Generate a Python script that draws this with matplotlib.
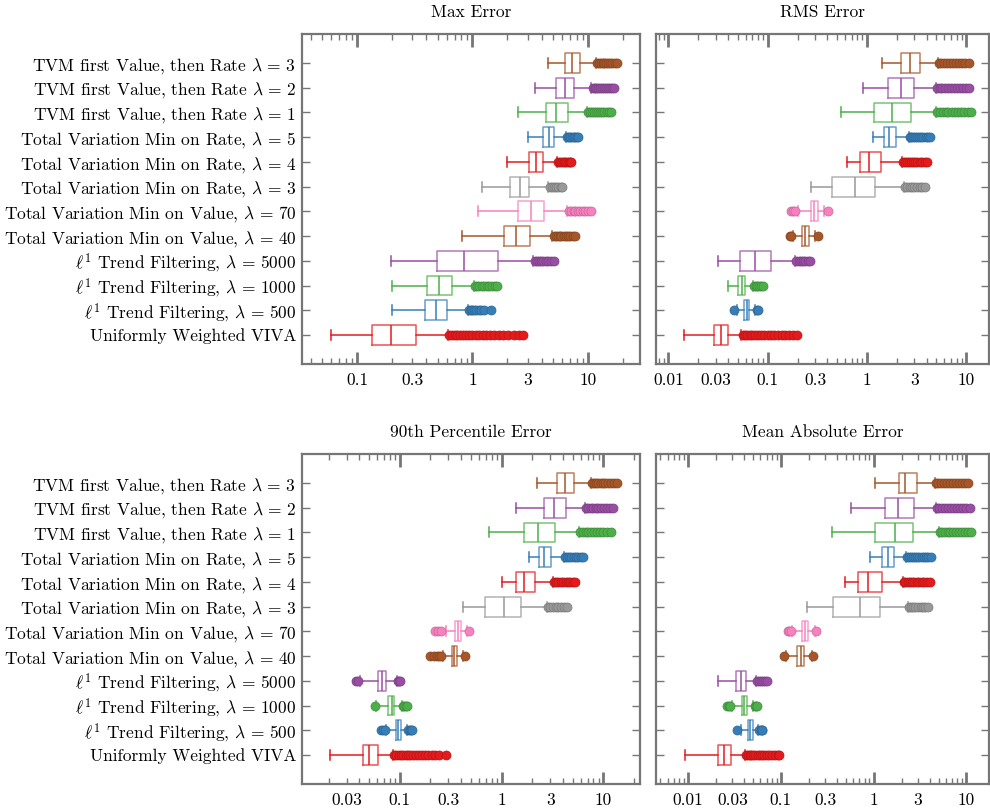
import matplotlib.pyplot as plt
from matplotlib.ticker import FixedLocator, FuncFormatter
import numpy as np

plt.rcParams['font.family'] = 'cmr10'
plt.rcParams['mathtext.fontset'] = 'cm'
plt.rcParams['axes.formatter.use_mathtext'] = True

# bottom -> top
methods = [
    'Uniformly Weighted VIVA',
    r'$\ell^1$ Trend Filtering, $\lambda\,=\,500$',
    r'$\ell^1$ Trend Filtering, $\lambda\,=\,1000$',
    r'$\ell^1$ Trend Filtering, $\lambda\,=\,5000$',
    r'Total Variation Min on Value, $\lambda\,=\,40$',
    r'Total Variation Min on Value, $\lambda\,=\,70$',
    r'Total Variation Min on Rate, $\lambda\,=\,3$',
    r'Total Variation Min on Rate, $\lambda\,=\,4$',
    r'Total Variation Min on Rate, $\lambda\,=\,5$',
    r'TVM first Value, then Rate $\lambda\,=\,1$',
    r'TVM first Value, then Rate $\lambda\,=\,2$',
    r'TVM first Value, then Rate $\lambda\,=\,3$',
]
colors = ['#e41a1c', '#377eb8', '#4daf4a', '#984ea3', '#a65628', '#f781bf', '#999999',
          '#e41a1c', '#377eb8', '#4daf4a', '#984ea3', '#a65628']

# ---- Max Error
max_lo = [0.06, 0.2, 0.2, 0.198, 0.81, 1.11, 1.2, 2.0, 3.03, 2.48, 3.51, 4.52]
max_q1 = [0.135, 0.387, 0.405, 0.494, 1.87, 2.47, 2.1, 3.1, 4.1, 4.37, 5.33, 6.38]
max_med = [0.198, 0.485, 0.51, 0.84, 2.4, 3.22, 2.57, 3.56, 4.58, 5.3, 6.3, 7.3]
max_q3 = [0.326, 0.604, 0.667, 1.67, 3.14, 4.15, 3.11, 4.06, 5.06, 6.73, 7.64, 8.6]
max_hi = [0.61, 0.91, 1.03, 3.35, 4.9, 6.6, 4.52, 5.41, 6.47, 9.84, 10.7, 11.8]
max_fl = [
    [0.63, 0.66, 0.7, 0.74, 0.78, 0.83, 0.88, 0.94, 1.0, 1.07, 1.15, 1.23, 1.32, 1.42, 1.55, 1.7, 1.85, 2.05, 2.3, 2.55, 2.75],
    [0.94, 0.97, 1.0, 1.04, 1.08, 1.13, 1.18, 1.25, 1.45],
    [1.06, 1.1, 1.15, 1.2, 1.26, 1.33, 1.4, 1.48, 1.56, 1.64],
    [3.45, 3.6, 3.75, 3.9, 4.1, 4.3, 4.55, 4.8, 5.1],
    [5.05, 5.3, 5.5, 5.7, 5.9, 6.15, 6.4, 6.7, 7.0, 7.4, 7.8],
    [6.8, 7.2, 7.5, 7.8, 8.2, 8.6, 9.0, 9.5, 10.0, 10.7],
    [4.65, 4.85, 5.05, 5.3, 5.55, 5.8, 6.0],
    [5.55, 5.75, 5.95, 6.15, 6.35, 6.6, 6.85, 7.05, 7.2],
    [6.6, 6.8, 7.0, 7.25, 7.5, 7.75, 8.0, 8.2],
    [10.1, 10.5, 10.9, 11.3, 11.8, 12.3, 12.8, 13.3, 13.9, 14.5, 15.1, 15.7],
    [11.0, 11.4, 11.8, 12.2, 12.7, 13.2, 13.7, 14.2, 14.8, 15.4, 16.0, 16.7],
    [12.1, 12.5, 12.9, 13.4, 13.9, 14.4, 15.0, 15.6, 16.2, 17.0, 17.9],
]

# ---- RMS Error
rms_lo = [0.0145, 0.049, 0.0397, 0.0319, 0.178, 0.204, 0.274, 0.63, 1.15, 0.55, 0.91, 1.42]
rms_q1 = [0.0291, 0.0584, 0.0508, 0.0528, 0.221, 0.27, 0.444, 0.84, 1.47, 1.17, 1.63, 2.2]
rms_med = [0.034, 0.0617, 0.055, 0.0748, 0.237, 0.292, 0.762, 1.04, 1.65, 1.79, 2.2, 2.69]
rms_q3 = [0.0403, 0.0656, 0.0597, 0.1077, 0.258, 0.318, 1.21, 1.39, 1.96, 2.75, 2.98, 3.39]
rms_hi = [0.054, 0.0753, 0.071, 0.189, 0.301, 0.371, 2.34, 2.25, 2.63, 4.96, 4.96, 5.15]
rms_fl = [
    [0.056, 0.059, 0.062, 0.066, 0.07, 0.075, 0.08, 0.086, 0.092, 0.1, 0.108, 0.117, 0.127, 0.138, 0.15, 0.165, 0.18, 0.197],
    [0.046, 0.078, 0.08],
    [0.073, 0.076, 0.079, 0.082, 0.085, 0.0895],
    [0.195, 0.205, 0.215, 0.225, 0.24, 0.255, 0.268],
    [0.166, 0.17, 0.318],
    [0.171, 0.178, 0.19, 0.404],
    [2.4, 2.55, 2.7, 2.85, 3.0, 3.2, 3.4, 3.6, 3.85],
    [2.3, 2.4, 2.5, 2.62, 2.75, 2.9, 3.05, 3.2, 3.4, 3.6, 3.8, 4.05],
    [2.7, 2.8, 2.92, 3.05, 3.2, 3.35, 3.5, 3.7, 3.9, 4.1, 4.35],
    [5.1, 5.4, 5.8, 6.2, 6.6, 7.1, 7.6, 8.2, 8.8, 9.5, 10.3, 11.2],
    [5.1, 5.4, 5.7, 6.1, 6.5, 7.0, 7.5, 8.0, 8.6, 9.3, 10.0, 10.7],
    [5.3, 5.6, 6.0, 6.4, 6.8, 7.3, 7.8, 8.4, 9.0, 9.7, 10.6],
]

# ---- 90th Percentile Error
p90_lo = [0.0208, 0.0728, 0.058, 0.0404, 0.263, 0.281, 0.413, 1.0, 1.88, 0.755, 1.39, 2.21]
p90_q1 = [0.0436, 0.0906, 0.0762, 0.0604, 0.322, 0.347, 0.69, 1.38, 2.31, 1.65, 2.59, 3.47]
p90_med = [0.0499, 0.0955, 0.0828, 0.0666, 0.34, 0.369, 1.06, 1.67, 2.63, 2.29, 3.27, 4.19]
p90_q3 = [0.0612, 0.103, 0.0879, 0.0733, 0.366, 0.398, 1.54, 2.14, 3.03, 3.34, 4.26, 5.17]
p90_hi = [0.0859, 0.118, 0.104, 0.0927, 0.42, 0.453, 2.81, 3.22, 4.1, 5.8, 6.59, 7.55]
p90_fl = [
    [0.088, 0.092, 0.097, 0.102, 0.108, 0.114, 0.12, 0.127, 0.135, 0.144, 0.154, 0.165, 0.177, 0.19, 0.205, 0.222, 0.24, 0.283],
    [0.065, 0.068, 0.0717, 0.121, 0.125, 0.128, 0.132],
    [0.057, 0.107, 0.111, 0.115, 0.118],
    [0.037, 0.039, 0.095, 0.098, 0.1],
    [0.2, 0.215, 0.23, 0.245, 0.255, 0.435],
    [0.221, 0.235, 0.251, 0.477],
    [2.87, 3.0, 3.2, 3.4, 3.6, 3.85, 4.1, 4.36],
    [3.3, 3.45, 3.6, 3.8, 4.0, 4.25, 4.5, 4.75, 5.0, 5.26],
    [4.2, 4.4, 4.6, 4.85, 5.1, 5.4, 5.7, 6.0, 6.26],
    [5.95, 6.3, 6.7, 7.1, 7.6, 8.1, 8.7, 9.3, 10.0, 10.8, 11.8],
    [6.75, 7.1, 7.5, 7.9, 8.4, 8.9, 9.5, 10.1, 10.8, 11.6, 12.5],
    [7.75, 8.1, 8.5, 8.9, 9.4, 9.9, 10.5, 11.1, 11.8, 12.6, 13.5],
]

# ---- Mean Absolute Error
mae_lo = [0.0092, 0.037, 0.0296, 0.0212, 0.114, 0.132, 0.191, 0.491, 0.914, 0.36, 0.574, 1.03]
mae_q1 = [0.0209, 0.0443, 0.0379, 0.0327, 0.15, 0.169, 0.365, 0.679, 1.24, 1.04, 1.31, 1.86]
mae_med = [0.0244, 0.047, 0.0405, 0.0373, 0.163, 0.18, 0.706, 0.861, 1.41, 1.7, 1.82, 2.2]
mae_q3 = [0.029, 0.0502, 0.0436, 0.0422, 0.177, 0.194, 1.16, 1.23, 1.66, 2.68, 2.7, 2.96]
mae_hi = [0.0411, 0.0573, 0.0506, 0.0541, 0.216, 0.231, 2.33, 2.06, 2.24, 5.08, 4.72, 4.56]
mae_fl = [
    [0.042, 0.044, 0.046, 0.048, 0.05, 0.053, 0.056, 0.059, 0.062, 0.066, 0.07, 0.075, 0.08, 0.086, 0.092, 0.0966],
    [0.0335, 0.0585, 0.0605, 0.062, 0.0633],
    [0.0265, 0.0275, 0.0283, 0.052, 0.0535, 0.055],
    [0.0555, 0.058, 0.061, 0.064, 0.067, 0.0705],
    [0.109, 0.221],
    [0.118, 0.123, 0.128, 0.24],
    [2.38, 2.5, 2.65, 2.8, 3.0, 3.2, 3.4, 3.6, 3.83],
    [2.1, 2.2, 2.32, 2.45, 2.6, 2.75, 2.92, 3.1, 3.3, 3.5, 3.75, 4.0],
    [2.3, 2.4, 2.52, 2.65, 2.8, 2.95, 3.1, 3.3, 3.5, 3.7, 3.9, 4.1],
    [5.2, 5.5, 5.9, 6.3, 6.7, 7.2, 7.7, 8.3, 8.9, 9.6, 10.4, 11.3],
    [4.8, 5.1, 5.5, 5.9, 6.3, 6.8, 7.3, 7.9, 8.5, 9.2, 10.0, 10.8],
    [4.65, 4.95, 5.3, 5.7, 6.1, 6.6, 7.1, 7.7, 8.3, 9.0, 9.7, 10.5],
]

grey = '#767676'


def darker(c, f=0.8):
    r, g, b = plt.matplotlib.colors.to_rgb(c)
    return (r * f, g * f, b * f)


def draw_panel(ax, title, lo, q1, med, q3, hi, fl, xlim, ylabels):
    stats = []
    for i in range(len(methods)):
        stats.append(dict(whislo=lo[i], q1=q1[i], med=med[i], q3=q3[i],
                          whishi=hi[i], fliers=fl[i]))
    art = ax.bxp(stats, positions=np.arange(len(methods)), widths=0.8,
                 orientation='horizontal', manage_ticks=False)
    for i, c in enumerate(colors):
        art['boxes'][i].set(color=c, linewidth=1.1, alpha=0.75)
        art['medians'][i].set(color=c, linewidth=1.1)
        for ln in art['whiskers'][2 * i:2 * i + 2] + art['caps'][2 * i:2 * i + 2]:
            ln.set(color=c, linewidth=1.1)
        art['fliers'][i].set(marker='o', markersize=6.5, markerfacecolor=c,
                             markeredgecolor=darker(c), markeredgewidth=0.5)

    ax.set_xscale('log')
    ax.set_xlim(*xlim)
    ax.set_ylim(-1.17, len(methods) - 1 + 1.17)

    majors = [10.0 ** k for k in range(-3, 3)]
    minors = [m * 10.0 ** k for k in range(-3, 3) for m in range(2, 10)]
    ax.xaxis.set_major_locator(FixedLocator(majors))
    ax.xaxis.set_minor_locator(FixedLocator(minors))
    ax.xaxis.set_major_formatter(FuncFormatter(lambda v, p: f'{v:g}'))
    ax.xaxis.set_minor_formatter(FuncFormatter(
        lambda v, p: f'{v:g}' if abs(v / 10 ** np.floor(np.log10(v)) - 3) < 1e-6 else ''))

    ax.set_yticks(np.arange(len(methods)))
    if ylabels:
        ax.set_yticklabels(methods)
    else:
        ax.set_yticklabels([])

    ax.tick_params(axis='x', which='major', direction='in', top=True, length=9,
                   width=2, color=grey, labelsize=12.5, pad=6)
    ax.tick_params(axis='x', which='minor', direction='in', top=True, length=4,
                   width=1, color=grey, labelsize=12.5, pad=6)
    ax.tick_params(axis='y', which='major', direction='in', right=True, length=6,
                   width=1, color=grey, labelsize=12.5, pad=4)
    for s in ax.spines.values():
        s.set_color(grey)
        s.set_linewidth(1.6)
    ax.set_title(title, fontsize=12.5, pad=12)


fig = plt.figure(figsize=(9.9, 8.11), dpi=100)
ax1 = fig.add_axes([0.305, 0.5512, 0.3414, 0.4069])
ax2 = fig.add_axes([0.6631, 0.5512, 0.3354, 0.4069])
ax3 = fig.add_axes([0.305, 0.0333, 0.3414, 0.4069])
ax4 = fig.add_axes([0.6631, 0.0333, 0.3354, 0.4069])

draw_panel(ax1, 'Max Error', max_lo, max_q1, max_med, max_q3, max_hi, max_fl, (0.0334, 28.2), True)
draw_panel(ax2, 'RMS Error', rms_lo, rms_q1, rms_med, rms_q3, rms_hi, rms_fl, (0.0076, 16.7), False)
draw_panel(ax3, '90th Percentile Error', p90_lo, p90_q1, p90_med, p90_q3, p90_hi, p90_fl, (0.0109, 22.9), True)
draw_panel(ax4, 'Mean Absolute Error', mae_lo, mae_q1, mae_med, mae_q3, mae_hi, mae_fl, (0.00456, 17.3), False)

fig.savefig('out.png', dpi=100)
